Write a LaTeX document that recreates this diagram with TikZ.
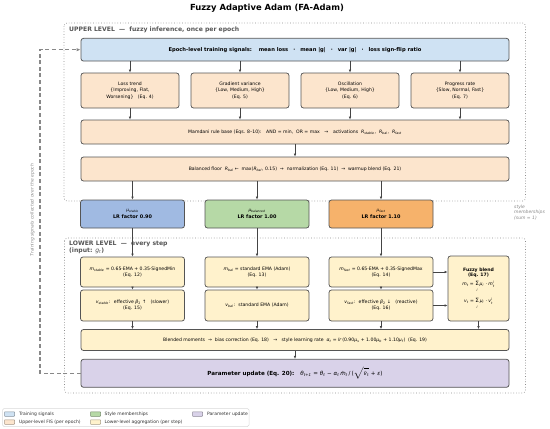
\documentclass[tikz,border=0pt]{standalone}
\usepackage{fontspec}
\setmainfont{DejaVu Sans}
\usetikzlibrary{arrows.meta}
\definecolor{sigfill}{HTML}{CFE2F3}
\definecolor{fisfill}{HTML}{FCE5CD}
\definecolor{stabfill}{HTML}{A0BAE2}
\definecolor{balfill}{HTML}{B6D9A6}
\definecolor{fastfill}{HTML}{F6B26B}
\definecolor{lowfill}{HTML}{FFF2CC}
\definecolor{updfill}{HTML}{D9D2E9}
\definecolor{edgec}{HTML}{555555}
\definecolor{arrc}{HTML}{444444}
\definecolor{lvlc}{HTML}{555555}
\definecolor{framec}{HTML}{8C8C8C}
\definecolor{notec}{HTML}{888888}
\newcommand\xs{\fontsize{3.3}{3.6}\selectfont}
\newcommand\sbs[1]{\textsubscript{\itshape #1}}
\newcommand\mi[1]{\textit{#1}}
\newcommand\gap{\hspace{3.2pt}}
\tikzset{
  boxbase/.style={draw=edgec, line width=0.75pt, rounded corners=2.5pt, align=center, inner sep=1pt,
    font=\fontsize{4.6}{6.3}\selectfont},
  sigbox/.style={boxbase, fill=sigfill, font=\fontsize{5.2}{6}\selectfont\bfseries},
  fisbox/.style={boxbase, fill=fisfill},
  lowbox/.style={boxbase, fill=lowfill},
  updbox/.style={boxbase, fill=updfill},
  membox/.style={boxbase, font=\fontsize{4.9}{6.4}\selectfont},
  arrow/.style={draw=arrc, line width=0.7pt, -{Latex[length=3pt,width=2.6pt]}},
  lvlframe/.style={draw=framec, line width=0.7pt, dotted, rounded corners=3pt},
  lvltext/.style={text=lvlc, font=\fontsize{6.1}{7.2}\selectfont\bfseries, align=left, inner sep=0pt},
  note/.style={text=notec, font=\fontsize{4.5}{5.6}\selectfont\itshape, align=left, inner sep=0pt},
  feedback/.style={draw=notec, line width=1.1pt, dash pattern=on 4pt off 2.6pt, -{Latex[length=4pt,width=3.4pt]}},
  swatch/.style={draw=#1!65!black, fill=#1, line width=0.5pt, minimum width=10pt, minimum height=4.5pt, inner sep=0pt, rounded corners=0.5pt},
  legtext/.style={font=\fontsize{4.5}{5}\selectfont, text=black!80, anchor=west, inner sep=0pt},
}
\begin{document}
\begin{tikzpicture}[x=1pt,y=-1pt]
\useasboundingbox (0,0) rectangle (550,429);
% title
\node[font=\fontsize{8.4}{10}\selectfont\bfseries] (title) at (267,8) {Fuzzy Adaptive Adam (FA-Adam)};
% level frames
\draw[lvlframe] (64,23) rectangle (525.5,201);
\draw[lvlframe] (64.5,238) rectangle (525.5,393);
\node[lvltext, anchor=north west] (uptxt) at (69,26.5) {UPPER LEVEL \ —\ \ fuzzy inference, once per epoch};
% upper level
\node[sigbox, minimum width=428pt, minimum height=22.7pt] (sig) at (295,49.7)
  {Epoch-level training signals:\gap\ \ mean loss\gap\ · \gap mean |g|\gap\ · \gap var |g|\gap\ · \gap loss sign-flip ratio};
\node[fisbox, minimum width=98pt, minimum height=35pt] (lt) at (130,90.5) {Loss trend\\\{Improving, Flat,\\Worsening\} \ \ (Eq. 4)};
\node[fisbox, minimum width=98pt, minimum height=35pt] (gv) at (240,90.5) {Gradient variance\\\{Low, Medium, High\}\\(Eq. 5)};
\node[fisbox, minimum width=98pt, minimum height=35pt] (os) at (350,90.5) {Oscillation\\\{Low, Medium, High\}\\(Eq. 6)};
\node[fisbox, minimum width=98pt, minimum height=35pt] (pr) at (460,90.5) {Progress rate\\\{Slow, Normal, Fast\}\\(Eq. 7)};
\node[fisbox, minimum width=428pt, minimum height=24pt] (mam) at (295,132)
  {Mamdani rule base (Eqs. 8–10):\gap\ AND = min, \ OR = max\gap\ →\gap\ activations \ \mi{R}\sbs{stable}, \ \mi{R}\sbs{bal}, \ \mi{R}\sbs{fast}};
\node[fisbox, minimum width=428pt, minimum height=24pt] (bal) at (295,169)
  {Balanced floor \ \mi{R}\sbs{bal} ← \ max(\mi{R}\sbs{bal}, 0.15) \ → \ normalization (Eq. 11) \ → \ warmup blend (Eq. 21)};
\foreach \n in {lt,gv,os,pr}{
  \draw[arrow] (sig.south -| \n.north) -- (\n.north);
  \draw[arrow] (\n.south) -- (mam.north -| \n.south);
}
\draw[arrow] (mam.south) -- (bal.north);
% memberships
\node[membox, fill=stabfill, minimum width=104pt, minimum height=28pt] (mus) at (132.5,214)
  {{\fontsize{4.3}{5}\selectfont\itshape μ\sbs{stable}}\\\textbf{LR factor 0.90}};
\node[membox, fill=balfill, minimum width=104pt, minimum height=28pt] (mub) at (257,214)
  {{\fontsize{4.3}{5}\selectfont\itshape μ\sbs{balanced}}\\\textbf{LR factor 1.00}};
\node[membox, fill=fastfill, minimum width=104pt, minimum height=28pt] (muf) at (381,214)
  {{\fontsize{4.3}{5}\selectfont\itshape μ\sbs{fast}}\\\textbf{LR factor 1.10}};
\foreach \n in {mus,mub,muf}{
  \draw[arrow] (bal.south -| \n.north) -- (\n.north);
}
\node[note, anchor=north west] (memnote) at (514,204.5) {style\\memberships\\(sum = 1)};
% lower level
\node[lvltext, anchor=north west] (lowtxt) at (69,240.5) {LOWER LEVEL \ —\ \ every step\\(input: \textit{\mdseries g}\sbs{\mdseries t})};
\node[lowbox, minimum width=104pt, minimum height=30pt] (ms) at (132.5,272)
  {\mi{m}\sbs{stable} = 0.65·EMA + 0.35·SignedMin\\(Eq. 12)};
\node[lowbox, minimum width=104pt, minimum height=30pt] (mb) at (257,272)
  {\mi{m}\sbs{bal} = standard EMA (Adam)\\(Eq. 13)};
\node[lowbox, minimum width=104pt, minimum height=30pt] (mf) at (381,272)
  {\mi{m}\sbs{fast} = 0.65·EMA + 0.35·SignedMax\\(Eq. 14)};
\node[lowbox, minimum width=104pt, minimum height=31pt] (vs) at (132.5,305.5)
  {\mi{v}\sbs{stable}: \ effective \mi{β}\textsubscript{2} ↑ \ \ (slower)\\(Eq. 15)};
\node[lowbox, minimum width=104pt, minimum height=31pt] (vb) at (257,305.5)
  {\mi{v}\sbs{bal}: \ standard EMA (Adam)};
\node[lowbox, minimum width=104pt, minimum height=31pt] (vf) at (381,305.5)
  {\mi{v}\sbs{fast}: \ effective \mi{β}\textsubscript{2} ↓ \ \ (reactive)\\(Eq. 16)};
\node[lowbox, minimum width=61pt, minimum height=65pt, font=\fontsize{4.6}{5.2}\selectfont] (fb) at (478.5,288.5)
  {\textbf{Fuzzy blend}\\\textbf{(Eq. 17)}\\[3pt]
   \mi{m}\sbs{t} = \ensuremath{\mathop{\mbox{\fontsize{5.8}{6}\selectfont Σ}}\limits_{\mbox{\xs\itshape i}}}\,\mi{μ}\sbs{i} · \ensuremath{\mbox{\itshape m}^{\mbox{\xs\itshape i}}_{\mbox{\xs\itshape t}}}\\[4pt]
   \mi{v}\sbs{t} = \ensuremath{\mathop{\mbox{\fontsize{5.8}{6}\selectfont Σ}}\limits_{\mbox{\xs\itshape i}}}\,\mi{μ}\sbs{i} · \ensuremath{\mbox{\itshape v}^{\mbox{\xs\itshape i}}_{\mbox{\xs\itshape t}}}};
\node[lowbox, minimum width=428pt, minimum height=21pt] (blend) at (295,340)
  {Blended moments \ → \ bias correction (Eq. 18) \ \ → \ \ style learning rate \ \mi{α}\sbs{t} = \mi{lr}\,(0.90\mi{μ}\sbs{s} + 1.00\mi{μ}\sbs{b} + 1.10\mi{μ}\sbs{f}) \ (Eq. 19)};
\node[updbox, minimum width=428pt, minimum height=28pt, font=\fontsize{5.6}{6.5}\selectfont] (upd) at (295,373.3)
  {\textbf{Parameter update (Eq. 20):} \ \ \mi{θ}\sbs{t+1} = \mi{θ}\sbs{t} − \mi{α}\sbs{t}\,\ensuremath{\hat{\mbox{\itshape m}}}\sbs{t}\,/\,(\ensuremath{\sqrt{\hat{\mbox{\itshape v}}\mbox{\sbs{t}}}} + \mi{ε})};
% lower arrows
\draw[arrow] (mus.south) -- (ms.north);
\draw[arrow] (mub.south) -- (mb.north);
\draw[arrow] (muf.south) -- (mf.north);
\draw[arrow] (ms.south) -- (vs.north);
\draw[arrow] (mb.south) -- (vb.north);
\draw[arrow] (mf.south) -- (vf.north);
\draw[arrow] (vs.south) -- (blend.north -| vs.south);
\draw[arrow] (vb.south) -- (blend.north -| vb.south);
\draw[arrow] (vf.south) -- (blend.north -| vf.south);
\draw[arrow] (fb.south) -- (blend.north -| fb.south);
\draw[arrow] (mf.east) -- (fb.west |- mf.east);
\draw[arrow] (vf.east) -- (fb.west |- vf.east);
\draw[arrow] (blend.south) -- (upd.north);
% feedback loop
\coordinate (fbk) at (40,212);
\draw[feedback] (upd.west) -| (fbk) |- (sig.west);
\node[note, rotate=90, anchor=center] (fbtxt) at (32.5,210) {Training signals collected over the epoch};
% legend
\draw[draw=black!15, fill=white, line width=0.5pt, rounded corners=1.5pt] (2.5,408.5) rectangle (249,426.5);
\node[swatch=sigfill] (s1) at (9.5,414) {};
\node[legtext] (l1) at (19,414) {Training signals};
\node[swatch=fisfill] (s2) at (9.5,422) {};
\node[legtext] (l2) at (19,422) {Upper-level FIS (per epoch)};
\node[swatch=balfill] (s3) at (95.5,414) {};
\node[legtext] (l3) at (104.5,414) {Style memberships};
\node[swatch=lowfill] (s4) at (95.5,422) {};
\node[legtext] (l4) at (104.5,422) {Lower-level aggregation (per step)};
\node[swatch=updfill] (s5) at (197.5,414) {};
\node[legtext] (l5) at (207,414) {Parameter update};
\end{tikzpicture}
\end{document}
